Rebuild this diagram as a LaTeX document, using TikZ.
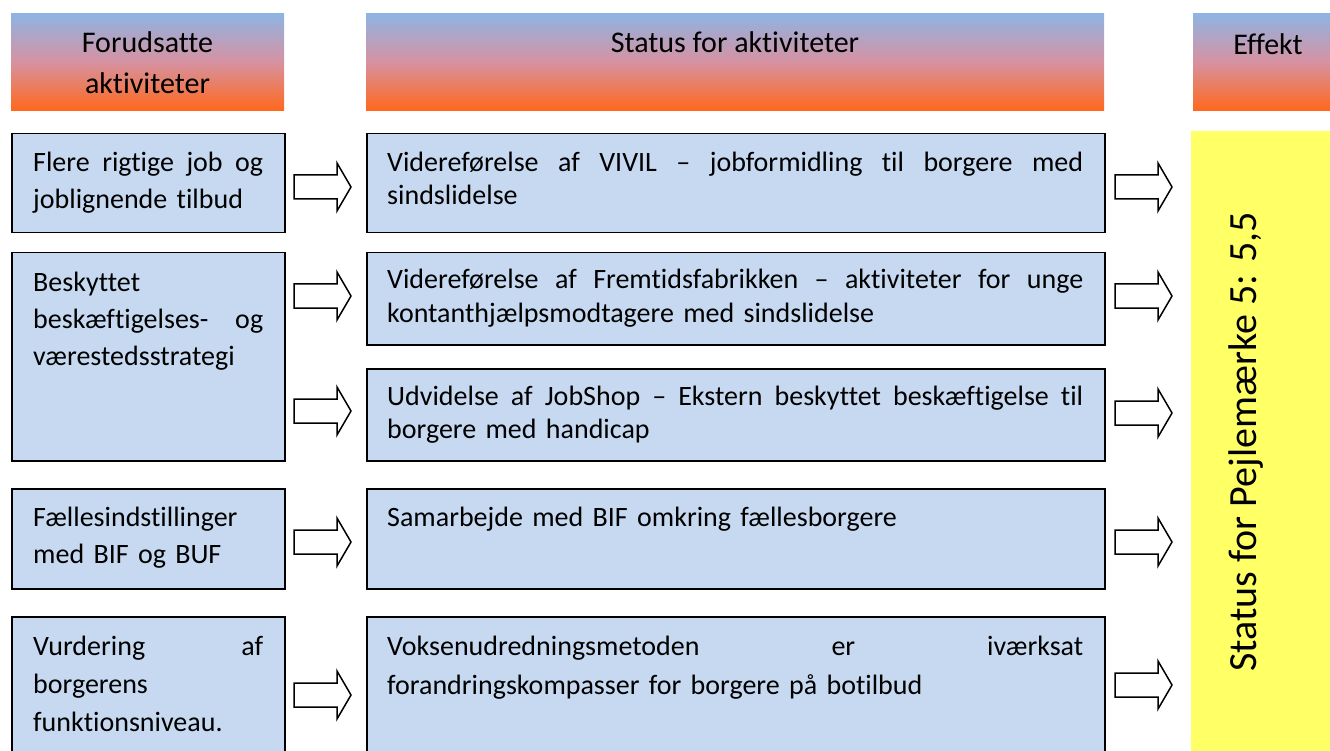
\documentclass[tikz,border=0pt]{standalone}
\usepackage{fontspec}
\setmainfont{Carlito}[Ligatures={NoCommon}]
\definecolor{boxblue}{RGB}{198,217,241}
\definecolor{hdrtop}{RGB}{142,180,227}
\definecolor{hdrmid}{RGB}{214,146,162}
\definecolor{hdrbot}{RGB}{255,104,28}
\definecolor{effyellow}{RGB}{255,255,102}
\newcommand{\jl}[2]{\leavevmode\hbox to #1{#2}}
\begin{document}
\begin{tikzpicture}[x=1pt,y=-1pt,
  hdr/.style={anchor=north west, inner sep=0pt, top color=hdrtop, bottom color=hdrbot, middle color=hdrmid},
  hdrtxt/.style={anchor=base, inner sep=0pt, align=center, font=\fontsize{30}{41}\selectfont},
  stbox/.style={draw=black, line width=1.5pt, fill=boxblue, anchor=north west, inner sep=0pt},
  ltxt/.style={anchor=base west, inner sep=0pt, align=left, text width=230pt, font=\fontsize{28}{37}\selectfont},
  mtxt/.style={anchor=base west, inner sep=0pt, align=left, text width=696pt, font=\fontsize{28}{33}\selectfont},
  blockarrow/.pic={\draw[line width=1.5pt, fill=white, line join=miter] (0,-12) -- (43,-12) -- (43,-24) -- (57,0) -- (43,24) -- (43,12) -- (0,12) -- cycle;}
]
\useasboundingbox (0,0) rectangle (1330,751);

% headers
\node[hdr, minimum width=273pt, minimum height=97pt] (h1) at (11,13) {};
\node[hdr, minimum width=738pt, minimum height=97pt] (h2) at (366,13) {};
\node[hdr, minimum width=145pt, minimum height=97pt] (h3) at (1193,13) {};
\node[hdrtxt] (h1t) at (147.5,94) {Forudsatte\\aktiviteter};
\node[hdrtxt] (h2t) at (735,53) {Status for aktiviteter};
\node[hdrtxt] (h3t) at (1268,55) {Effekt};

% effect column
\node[fill=effyellow, anchor=north west, inner sep=0pt, minimum width=150pt, minimum height=640pt] (eff) at (1191,131) {};
\node[rotate=90, anchor=base, inner sep=0pt, font=\fontsize{40}{48}\selectfont] (efft) at (1256,442) {Status for Pejlemærke 5: 5,5};

% left column
\node[stbox, minimum width=273pt, minimum height=99pt] (l1) at (11,133) {};
\node[stbox, minimum width=273pt, minimum height=208pt] (l2) at (11,252) {};
\node[stbox, minimum width=273pt, minimum height=100pt] (l3) at (11,488) {};
\node[stbox, minimum width=273pt, minimum height=150pt] (l4) at (11,616) {};
\node[ltxt] (l1t) at (33,172) {\jl{230pt}{Flere\hfill rigtige\hfill job\hfill og}\\joblignende tilbud};
\node[ltxt] (l2t) at (33,291) {Beskyttet\\\jl{230pt}{beskæftigelses-\hfill og}\\værestedsstrategi};
\node[ltxt] (l3t) at (33,526) {Fællesindstillinger\\med BIF og BUF};
\node[ltxt, font=\fontsize{28}{38}\selectfont] (l4t) at (33,655) {\jl{230pt}{Vurdering\hfill af}\\borgerens\\funktionsniveau.};

% middle column
\node[stbox, minimum width=738pt, minimum height=99pt] (m1) at (366,133) {};
\node[stbox, minimum width=738pt, minimum height=92pt] (m2) at (366,252) {};
\node[stbox, minimum width=738pt, minimum height=92pt] (m3) at (366,368) {};
\node[stbox, minimum width=738pt, minimum height=100pt] (m4) at (366,488) {};
\node[stbox, minimum width=738pt, minimum height=150pt] (m5) at (366,616) {};
\node[mtxt] (m1t) at (387,172) {\jl{696pt}{Videreførelse\hfill af\hfill VIVIL\hfill –\hfill jobformidling\hfill til\hfill borgere\hfill med}\\sindslidelse};
\node[mtxt] (m2t) at (387,289) {\jl{696pt}{Videreførelse\hfill af\hfill Fremtidsfabrikken\hfill –\hfill aktiviteter\hfill for\hfill unge}\\kontanthjælpsmodtagere med sindslidelse};
\node[mtxt] (m3t) at (387,405) {\jl{696pt}{Udvidelse\hfill af\hfill JobShop\hfill –\hfill Ekstern\hfill beskyttet\hfill beskæftigelse\hfill til}\\borgere med handicap};
\node[mtxt] (m4t) at (387,526) {Samarbejde med BIF omkring fællesborgere};
\node[mtxt, font=\fontsize{28}{39}\selectfont] (m5t) at (387,655) {\jl{696pt}{Voksenudredningsmetoden\hfill er\hfill iværksat}\\forandringskompasser for borgere på botilbud};

% arrows left -> middle
\pic at (294,187) {blockarrow};
\pic at (294,296) {blockarrow};
\pic at (294,411) {blockarrow};
\pic at (294,542) {blockarrow};
\pic at (294,695) {blockarrow};
% arrows middle -> effect
\pic at (1115,187) {blockarrow};
\pic at (1115,296) {blockarrow};
\pic at (1115,413) {blockarrow};
\pic at (1115,542) {blockarrow};
\pic at (1115,685) {blockarrow};
\end{tikzpicture}
\end{document}
